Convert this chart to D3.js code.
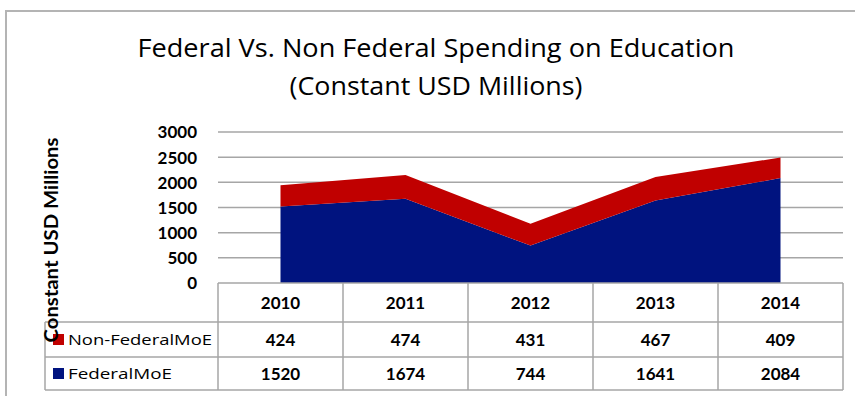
<!DOCTYPE html>
<html>
<head>
<meta charset="utf-8">
<script src="https://cdn.jsdelivr.net/npm/d3@7"></script>
<style>
  html, body { margin: 0; padding: 0; background: #fff; }
  svg { display: block; }
  text { fill: #000; }
</style>
</head>
<body>
<svg id="chart" width="855" height="396"></svg>
<script>
// Spending on education, constant USD millions
const years = ["2010", "2011", "2012", "2013", "2014"];
const federalMoE = [1520, 1674, 744, 1641, 2084];
const nonFederalMoE = [424, 474, 431, 467, 409];
const yTicks = [0, 500, 1000, 1500, 2000, 2500, 3000];
const seriesNames = ["Non-FederalMoE", "FederalMoE"];
const seriesColors = ["#c00000", "#00137f"];

const svg = d3.select("#chart");
const bodyFont = "Lato, 'Open Sans', 'Liberation Sans', sans-serif";
const titleFont = "'Open Sans', 'Liberation Sans', sans-serif";

// outer chart frame (runs off the right and bottom edges)
svg.append("path")
  .attr("d", "M6,397 V11 H856")
  .attr("fill", "none")
  .attr("stroke", "#b4b4b4")
  .attr("stroke-width", 2);

// title
const title = svg.append("g");
title.append("text")
  .attr("x", 436).attr("y", 57)
  .attr("text-anchor", "middle")
  .style("font-family", titleFont)
  .style("font-size", "25px")
  .attr("textLength", 597).attr("lengthAdjust", "spacingAndGlyphs")
  .text("Federal Vs. Non Federal Spending on Education");
title.append("text")
  .attr("x", 436).attr("y", 95)
  .attr("text-anchor", "middle")
  .style("font-family", titleFont)
  .style("font-size", "25px")
  .attr("textLength", 293).attr("lengthAdjust", "spacingAndGlyphs")
  .text("(Constant USD Millions)");

// plot geometry
const plotLeft = 218, plotRight = 843, plotTop = 132, zeroY = 283;

const x = d3.scaleBand().domain(years).range([plotLeft, plotRight]).padding(0);
const y = d3.scaleLinear().domain([0, 3000]).range([zeroY, plotTop]);

// gridlines
svg.append("g")
  .selectAll("line")
  .data(yTicks.filter(d => d > 0))
  .join("line")
  .attr("x1", plotLeft).attr("x2", plotRight)
  .attr("y1", d => y(d)).attr("y2", d => y(d))
  .attr("stroke", "#a6a6a6")
  .attr("stroke-width", 1.5);

// y axis tick labels
const yAxis = d3.axisLeft(y).tickValues(yTicks).tickFormat(d3.format("d")).tickSize(0).tickPadding(0);
const gy = svg.append("g").attr("transform", "translate(197,0)").call(yAxis);
gy.select(".domain").remove();
gy.selectAll("text")
  .style("font-family", bodyFont)
  .style("font-size", "17px")
  .style("font-weight", "bold")
  .attr("fill", "#000")
  .attr("dy", "0.35em");

// stacked areas
const rows = years.map((yr, i) => ({ year: yr, federal: federalMoE[i], nonFederal: nonFederalMoE[i] }));
const stack = d3.stack().keys(["federal", "nonFederal"]);
const layers = stack(rows);
const cx = d => x(d.data.year) + x.bandwidth() / 2;
const area = d3.area()
  .x(cx)
  .y0(d => y(d[0]))
  .y1(d => y(d[1]));
const layerColor = { federal: seriesColors[1], nonFederal: seriesColors[0] };

svg.append("g")
  .selectAll("path")
  .data(layers)
  .join("path")
  .attr("d", area)
  .attr("fill", d => layerColor[d.key]);

// data table below the plot
const rowTop = [283, 322, 357];
const rowBottom = 390;
const legendLeft = 45;
const tbl = svg.append("g").attr("stroke", "#a6a6a6").attr("stroke-width", 1.5);

// horizontal rules
tbl.append("line").attr("x1", plotLeft).attr("x2", plotRight).attr("y1", rowTop[0]).attr("y2", rowTop[0]);
[rowTop[1], rowTop[2], rowBottom].forEach(yy => {
  tbl.append("line").attr("x1", legendLeft).attr("x2", plotRight).attr("y1", yy).attr("y2", yy);
});
// vertical rules
tbl.append("line").attr("x1", legendLeft).attr("x2", legendLeft).attr("y1", rowTop[1]).attr("y2", rowBottom);
years.forEach(yr => {
  const xx = x(yr);
  tbl.append("line").attr("x1", xx).attr("x2", xx).attr("y1", rowTop[0]).attr("y2", rowBottom);
});
tbl.append("line").attr("x1", plotRight).attr("x2", plotRight).attr("y1", rowTop[0]).attr("y2", rowBottom);

const cellStyle = sel => sel
  .attr("text-anchor", "middle")
  .attr("dy", "0.35em")
  .style("font-family", bodyFont)
  .style("font-size", "17px")
  .style("font-weight", "bold");

// header row: years
svg.append("g").selectAll("text")
  .data(years)
  .join("text")
  .attr("x", d => x(d) + x.bandwidth() / 2)
  .attr("y", (rowTop[0] + rowTop[1]) / 2 + 1)
  .call(cellStyle)
  .text(d => d);

// value rows
const tableSeries = [nonFederalMoE, federalMoE];
const rowCenters = [(rowTop[1] + rowTop[2]) / 2, (rowTop[2] + rowBottom) / 2];
tableSeries.forEach((vals, r) => {
  svg.append("g").selectAll("text")
    .data(vals)
    .join("text")
    .attr("x", (d, i) => x(years[i]) + x.bandwidth() / 2)
    .attr("y", rowCenters[r] + 1)
    .call(cellStyle)
    .text(d => d);
});

// legend keys in the first column
const legendWidths = [144, 104];
seriesNames.forEach((name, r) => {
  svg.append("rect")
    .attr("x", 53).attr("y", rowCenters[r] - 5.5)
    .attr("width", 11).attr("height", 11)
    .attr("fill", seriesColors[r]);
  svg.append("text")
    .attr("x", 68).attr("y", rowCenters[r] + 0.5)
    .attr("dy", "0.35em")
    .style("font-family", titleFont)
    .style("font-size", "15px")
    .attr("textLength", legendWidths[r]).attr("lengthAdjust", "spacingAndGlyphs")
    .text(name);
});

// y axis title
svg.append("text")
  .attr("transform", "translate(58,240) rotate(-90)")
  .attr("text-anchor", "middle")
  .style("font-family", bodyFont)
  .style("font-size", "18px")
  .style("font-weight", "bold")
  .attr("textLength", 205).attr("lengthAdjust", "spacingAndGlyphs")
  .text("Constant USD Millions");
</script>
</body>
</html>
